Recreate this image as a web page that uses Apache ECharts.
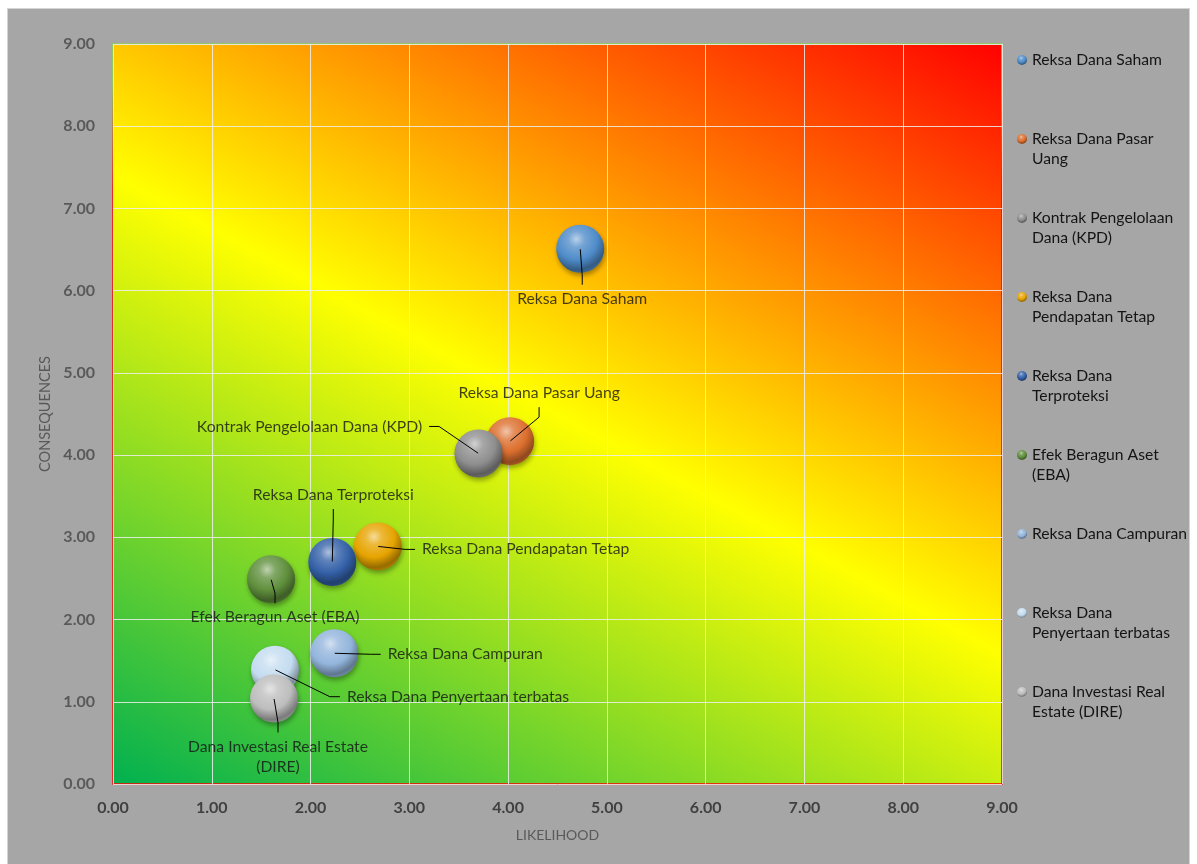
<!DOCTYPE html>
<html><head><meta charset="utf-8">
<script src="https://cdn.jsdelivr.net/npm/echarts@6/dist/echarts.min.js"></script>
<style>
html,body{margin:0;padding:0;background:#fff;width:1197px;height:864px;overflow:hidden}
#bg{position:absolute;left:7px;top:8px;width:1183px;height:856px;background:#a6a6a6;box-sizing:border-box;border:1px solid #d4d4d4;border-bottom:none}
#chart{position:absolute;left:0;top:0;width:1197px;height:864px}
</style></head><body>
<div id="bg"></div><div id="chart"></div>
<script>
// ---- data ----
const seriesNames = [
  'Reksa Dana Saham',
  'Reksa Dana Pasar Uang',
  'Kontrak Pengelolaan Dana (KPD)',
  'Reksa Dana Pendapatan Tetap',
  'Reksa Dana Terproteksi',
  'Efek Beragun Aset (EBA)',
  'Reksa Dana Campuran',
  'Reksa Dana Penyertaan terbatas',
  'Dana Investasi Real Estate (DIRE)'
];
const likelihood   = [4.73, 4.02, 3.70, 2.68, 2.22, 1.60, 2.24, 1.64, 1.63];
const consequences = [6.51, 4.17, 4.02, 2.89, 2.70, 2.49, 1.59, 1.39, 1.04];
const tickLabels = ['0.00','1.00','2.00','3.00','4.00','5.00','6.00','7.00','8.00','9.00'];
const legendLabels = [
  'Reksa Dana Saham',
  'Reksa Dana Pasar\nUang',
  'Kontrak Pengelolaan\nDana (KPD)',
  'Reksa Dana\nPendapatan Tetap',
  'Reksa Dana\nTerproteksi',
  'Efek Beragun Aset\n(EBA)',
  'Reksa Dana Campuran',
  'Reksa Dana\nPenyertaan terbatas',
  'Dana Investasi Real\nEstate (DIRE)'
];
const pointLabels = [
  'Reksa Dana Saham',
  'Reksa Dana Pasar Uang',
  'Kontrak Pengelolaan Dana (KPD)',
  'Reksa Dana Pendapatan Tetap',
  'Reksa Dana Terproteksi',
  'Efek Beragun Aset (EBA)',
  'Reksa Dana Campuran',
  'Reksa Dana Penyertaan terbatas',
  'Dana Investasi Real Estate\n(DIRE)'
];

// ---- styling / layout ----
const baseColors = ['#4f8cc9','#dc6f2e','#8e8e8e','#e6a400','#3461a8','#5f8f3c','#93b5dc','#c4dcf0','#bdbdbd'];
const labelOffsets = [[2,50],[29,-48],[-169,-27],[148,3],[1,-67],[4,38],[131,1],[183,27],[4,58]];

function hexToRgb(h){h=h.replace('#','');return [parseInt(h.substr(0,2),16),parseInt(h.substr(2,2),16),parseInt(h.substr(4,2),16)];}
function mix(h,t,k){const a=hexToRgb(h),b=hexToRgb(t);return 'rgb('+a.map((v,i)=>Math.round(v+(b[i]-v)*k)).join(',')+')';}
function sphere(c){
  return new echarts.graphic.RadialGradient(0.42,0.3,0.78,[
    {offset:0,color:mix(c,'#ffffff',0.6)},
    {offset:0.22,color:mix(c,'#ffffff',0.22)},
    {offset:0.55,color:c},
    {offset:0.82,color:mix(c,'#000000',0.35)},
    {offset:1,color:mix(c,'#000000',0.15)}
  ]);
}

const fillGradient = new echarts.graphic.LinearGradient(0.2126,1.139,0.786,-0.139,[
  {offset:0,color:'#00b050'},{offset:0.5,color:'#ffff00'},{offset:1,color:'#ff0000'}
]);
const borderGradient = new echarts.graphic.LinearGradient(0,0,0,1,[
  {offset:0,color:'#8fd14f'},{offset:0.05,color:'#8fd14f'},{offset:0.2,color:'#ff0000'},{offset:1,color:'#ff0000'}
]);

const FONT = 'Lato';
const TXT = 15.7;

const bubbleSeries = seriesNames.map((name,i)=>({
  type:'scatter', name,
  data:[[likelihood[i], consequences[i]]],
  symbolSize:48,
  itemStyle:{color:sphere(baseColors[i]), opacity:1, shadowBlur:5, shadowColor:'rgba(0,0,0,0.35)', shadowOffsetX:1, shadowOffsetY:3},
  emphasis:{disabled:true},
  z:2
}));

const labelSeries = {
  type:'scatter', name:'__labels',
  data: likelihood.map((x,i)=>({value:[x,consequences[i]], name:pointLabels[i]})),
  symbolSize:1,
  itemStyle:{color:'rgba(0,0,0,0)'},
  label:{show:true, position:'inside', formatter:p=>p.name, color:'#141414', fontFamily:FONT, fontSize:TXT, lineHeight:20, padding:[4,7]},
  labelLine:{show:true, length2:10, lineStyle:{color:'#000', width:1}},
  labelLayout:p=>({dx:labelOffsets[p.dataIndex][0], dy:labelOffsets[p.dataIndex][1]}),
  emphasis:{disabled:true},
  silent:true,
  z:6
};

const chart = echarts.init(document.getElementById('chart'), null, {renderer:'canvas'});
chart.setOption({
  animation:false,
  backgroundColor:'transparent',
  grid:{left:113, top:44, right:195, bottom:80, show:true, backgroundColor:fillGradient, borderColor:borderGradient, borderWidth:1.5, outerBoundsMode:'none'},
  legend:{
    data:seriesNames, orient:'vertical', left:1017, top:30, padding:0, itemGap:19,
    itemWidth:10, itemHeight:10, icon:'circle', selectedMode:false,
    itemStyle:{opacity:1},
    textStyle:{fontFamily:FONT, fontSize:TXT, color:'#141414', lineHeight:20},
    formatter:name=>{const w=legendLabels[seriesNames.indexOf(name)];return '\n'+w+(w.indexOf('\n')>=0?'':'\n');}
  },
  xAxis:{
    type:'value', min:0, max:9, interval:1,
    name:'LIKELIHOOD', nameLocation:'middle', nameGap:44,
    nameTextStyle:{color:'#595959', fontSize:14, fontFamily:FONT},
    axisLine:{show:false}, axisTick:{show:false},
    axisLabel:{formatter:v=>tickLabels[Math.round(v)], color:'#404040', fontSize:16, fontWeight:'bold', fontFamily:FONT, margin:16},
    splitLine:{lineStyle:{color:'rgba(238,238,238,0.85)', width:1}}
  },
  yAxis:{
    type:'value', min:0, max:9, interval:1,
    name:'CONSEQUENCES', nameLocation:'middle', nameGap:59, nameRotate:90,
    nameTextStyle:{color:'#595959', fontSize:14.5, fontFamily:FONT},
    axisLine:{show:false}, axisTick:{show:false},
    axisLabel:{formatter:v=>tickLabels[Math.round(v)], color:'#595959', fontSize:16, fontWeight:'bold', fontFamily:FONT, margin:18},
    splitLine:{lineStyle:{color:'rgba(238,238,238,0.85)', width:1}}
  },
  series:[...bubbleSeries, labelSeries]
});
</script>
</body></html>
